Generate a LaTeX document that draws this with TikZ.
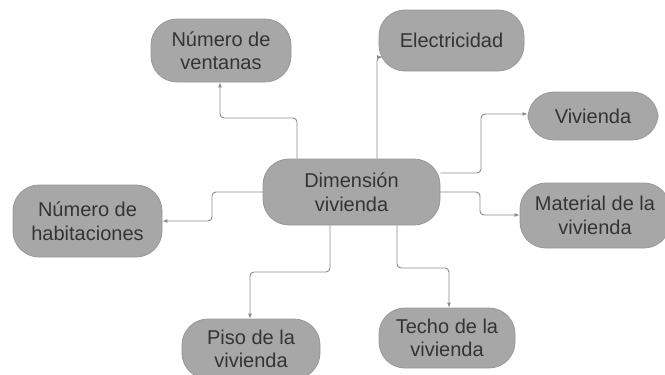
\documentclass[tikz,border=0pt]{standalone}
\usepackage{fontspec}
\setmainfont{Liberation Sans}
\usetikzlibrary{arrows.meta,calc}
\definecolor{boxfill}{HTML}{A7A7A7}
\definecolor{boxline}{HTML}{989898}
\definecolor{txt}{HTML}{343434}
\definecolor{wire}{HTML}{8A8A8A}
\begin{document}
\begin{tikzpicture}[x=1pt,y=-1pt,
  box/.style={draw=boxline,line width=0.8pt,fill=boxfill,rounded corners=26pt,
    text=txt,align=center,inner sep=0pt,font=\fontsize{20}{23.5}\selectfont},
  arr/.style={draw=wire,line width=0.9pt,rounded corners=4pt,
    -{Latex[length=5pt,width=4pt]}}]
\useasboundingbox (0,0) rectangle (665,375);
\node[box,minimum width=177pt,minimum height=66pt] (c) at (351.5,192) {Dimensión\\vivienda};
\node[box,minimum width=140pt,minimum height=63pt] (ven) at (221,50.5) {Número de\\ventanas};
\node[box,minimum width=145pt,minimum height=61pt] (el) at (451.5,40.5) {Electricidad};
\node[box,minimum width=130pt,minimum height=48pt] (viv) at (593,116) {Vivienda};
\node[box,minimum width=150pt,minimum height=65pt] (mat) at (595,215.5) {Material de la\\vivienda};
\node[box,minimum width=149pt,minimum height=72pt] (hab) at (87.5,221) {Número de\\habitaciones};
\node[box,minimum width=138pt,minimum height=60pt] (piso) at (251,349) {Piso de la\\vivienda};
\node[box,minimum width=136pt,minimum height=60pt] (tec) at (447,338) {Techo de la\\vivienda};
\coordinate (eA) at (382,57);
\draw[arr] ($(c.north)+(-54.5,0)$) |- (220,118) -- (ven.south -| 220,0);
\draw[arr] ($(c.north)+(25.5,0)$) |- (eA);
\draw[arr] ($(c.east)+(0,-19)$) -| (481,114) -- (viv.west |- 0,114);
\draw[arr] (c.east) -| (480,215) -- (mat.west |- 0,215);
\draw[arr] (c.west) -| (212,221) -- (hab.east |- 0,221);
\draw[arr] ($(c.south)+(-21.5,0)$) |- (250,272) -- (piso.north -| 250,0);
\draw[arr] ($(c.south)+(45.5,0)$) |- (449,268) -- (tec.north -| 449,0);
\end{tikzpicture}
\end{document}
